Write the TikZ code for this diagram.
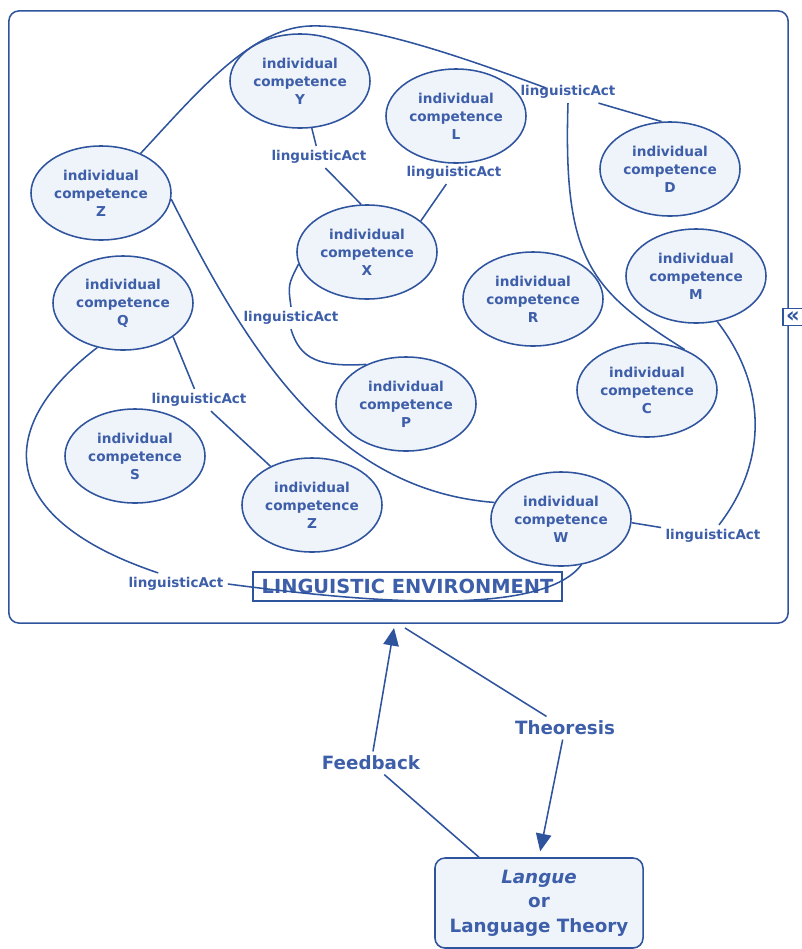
\documentclass[tikz,border=0pt]{standalone}
\usepackage{fontspec}
\setmainfont{DejaVu Sans}
\usetikzlibrary{shapes.geometric,arrows.meta}
\definecolor{cmapblue}{HTML}{2F549E}
\definecolor{cmaptext}{HTML}{3D5EA9}
\definecolor{cmapfill}{HTML}{EFF3FA}

\begin{document}
\begin{tikzpicture}[x=0.025cm, y=-0.025cm,
    competence/.style={ellipse, draw=cmapblue, line width=1.1pt, fill=cmapfill,
        minimum width=3.5cm, minimum height=2.35cm, inner sep=0pt, align=center,
        text=cmaptext, font=\bfseries\fontsize{9.7}{12.8}\selectfont},
    act/.style={text=cmaptext, inner sep=3pt, font=\bfseries\fontsize{9.6}{11}\selectfont},
    link/.style={draw=cmapblue, line width=1.1pt},
    arrowlink/.style={link, -{Triangle[length=12.5pt,width=11pt]}},
    phrase/.style={text=cmaptext, inner sep=3pt, font=\bfseries\fontsize{13}{15}\selectfont}]

    % Fix the canvas
    \useasboundingbox (0,0) rectangle (802,949);

    % Draw the environment frame
    \node[draw=cmapblue, line width=1.1pt, rounded corners=0.25cm, minimum width=19.475cm,
        minimum height=15.3cm, inner sep=0pt] (envframe) at (398.5,317) {};
    \node[draw=cmapblue, line width=1pt, fill=white, minimum width=0.5cm, minimum height=0.42cm,
        inner sep=0pt, text=cmapblue, font=\bfseries\fontsize{15}{15}\selectfont] (collapse) at (793,317) {«};

    % Individual competences
    \node[competence] (compY) at (300,81) {individual\\competence\\Y};
    \node[competence] (compL) at (456,116) {individual\\competence\\L};
    \node[competence] (compD) at (670,169) {individual\\competence\\D};
    \node[competence] (compZt) at (101,193) {individual\\competence\\Z};
    \node[competence] (compX) at (367,252) {individual\\competence\\X};
    \node[competence] (compM) at (696,276) {individual\\competence\\M};
    \node[competence] (compR) at (533,299) {individual\\competence\\R};
    \node[competence] (compQ) at (123,303) {individual\\competence\\Q};
    \node[competence] (compC) at (647,390) {individual\\competence\\C};
    \node[competence] (compP) at (406,404) {individual\\competence\\P};
    \node[competence] (compS) at (135,456) {individual\\competence\\S};
    \node[competence] (compZb) at (312,505) {individual\\competence\\Z};
    \node[competence] (compW) at (561,519) {individual\\competence\\W};

    % Linguistic acts
    \node[act] (actYX) at (319,157) {linguisticAct};
    \node[act] (actLX) at (454,173) {linguisticAct};
    \node[act] (actTop) at (568,92) {linguisticAct};
    \node[act] (actXP) at (291,318) {linguisticAct};
    \node[act] (actQZ) at (199,400) {linguisticAct};
    \node[act] (actWM) at (713,536) {linguisticAct};
    \node[act] (actQW) at (176,584) {linguisticAct};

    \node[draw=cmapblue, line width=1pt, minimum width=7.725cm, minimum height=0.725cm, inner sep=0pt,
        text=cmaptext, font=\bfseries\fontsize{13.8}{15}\selectfont] (env) at (407.5,586.5) {LINGUISTIC ENVIRONMENT};

    % Connect competences through acts
    \coordinate (crest) at (310,26);
    \draw[link] (compY) -- (actYX);
    \draw[link] (actYX.-60) -- (compX.97);
    \draw[link] (compL) -- (actLX);
    \draw[link] (actLX) -- (compX.30);
    \draw[link] (compZt.45) .. controls (195,95) and (250,28) .. (crest)
        .. controls (370,24) and (470,60) .. ([xshift=0.75cm,yshift=0.1cm]actTop.west);
    \draw[link] (actTop.-20) -- (compD.100);
    \draw[link] (actTop.south) .. controls (563,260) and (590,290) .. (compC.47);
    \draw[link] (compZt.-5) .. controls (245,345) and (330,490) .. (compW.166);
    \draw[link] (compX.190) .. controls (288,285) .. (actXP.north);
    \draw[link] (actXP.south) .. controls (300,360) and (320,367) .. (compP.135);
    \draw[link] (compQ.-34) -- (actQZ);
    \draw[link] (actQZ) -- (compZb.137);
    \draw[link] (compW.-3) -- (actWM);
    \draw[link] ([xshift=0.15cm]actWM.north) .. controls (765,465) and (770,390) .. (compM.-65);
    \draw[link] (compQ.240) .. controls (-10,430) and (0,520) .. (actQW.148);
    \draw[link] (actQW.east) .. controls (350,600) and (540,620) .. (compW.-66);

    % Theoresis and feedback
    \node[draw=cmapblue, line width=1.1pt, rounded corners=0.25cm, fill=cmapfill, minimum width=5.2cm,
        minimum height=2.25cm, align=center, text=cmaptext,
        font=\bfseries\fontsize{13}{17.5}\selectfont] (langue) at (539,903) {\textit{Langue}\\or\\Language Theory};
    \node[phrase] (fb) at (371,763) {Feedback};
    \node[phrase] (th) at (565,728) {Theoresis};
    \coordinate (fbin) at (394,628);
    \coordinate (thout) at (405,628);
    \draw[link] ([xshift=-1.5cm]langue.north) -- (fb);
    \draw[arrowlink] (fb) -- (fbin);
    \draw[link] (thout) -- (th);
    \draw[arrowlink, shorten >=0.15cm] (th) -- (langue.north);
\end{tikzpicture}
\end{document}
